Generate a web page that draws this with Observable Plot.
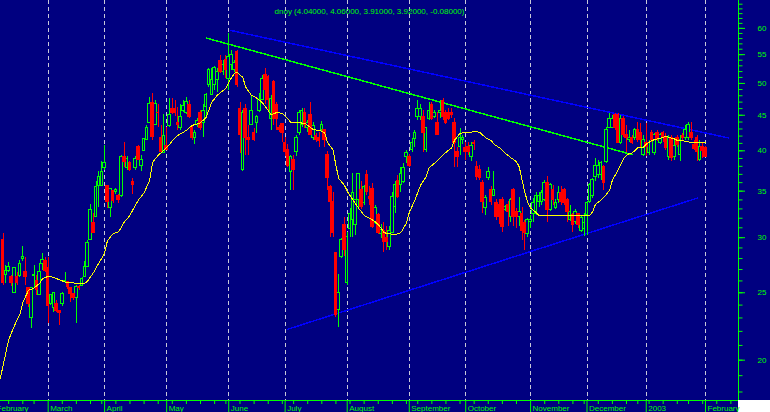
<!DOCTYPE html>
<html><head><meta charset="utf-8">
<script src="https://cdn.jsdelivr.net/npm/d3@7"></script>
<script src="https://cdn.jsdelivr.net/npm/@observablehq/plot@0.6"></script>
<style>html,body{margin:0;padding:0;background:#ffffff;overflow:hidden}</style>
</head><body><div id="chart"></div>
<script>
const title = "dnoy (4.04000, 4.06000, 3.91000, 3.92000, -0.08000)";

// daily candles (trading-day index 0 = first visible day)
const open = [
29.8,26.5,26.9,26.3,25.0,26.3,26.4,28.0,26.8,25.4,
23.0,26.4,26.0,24.8,27.5,27.8,27.1,24.1,23.8,24.1,
23.5,24.1,25.9,25.9,25.4,24.9,24.6,25.5,25.6,26.3,
27.2,29.8,31.5,32.1,35.6,35.6,37.8,35.6,33.1,35.0,
34.9,34.5,34.5,39.2,37.8,38.4,36.1,37.8,40.5,38.0,
40.0,41.4,43.9,46.9,43.5,45.4,41.7,39.7,40.7,43.4,
46.0,46.0,43.8,43.1,45.7,45.4,46.6,43.1,41.8,43.5,
45.3,43.9,46.2,49.7,48.1,49.7,50.5,53.8,51.9,54.0,
50.8,53.1,52.2,55.4,46.0,37.5,46.0,41.7,43.5,42.4,
43.9,45.6,47.3,51.4,51.0,44.5,50.2,46.6,43.2,43.7,
41.1,40.1,37.3,38.8,39.8,42.4,43.5,45.4,43.1,45.1,
41.7,42.0,41.7,42.8,42.8,39.5,35.5,33.8,28.5,23.6,
28.1,31.3,25.8,30.9,31.8,31.3,34.0,35.1,33.6,36.9,
34.3,35.2,31.5,32.3,30.4,30.7,30.0,29.1,30.5,33.2,
36.2,35.7,36.1,39.2,39.2,40.1,41.6,44.7,44.7,44.7,
40.1,44.5,46.6,44.7,43.8,45.3,47.2,45.3,45.3,45.4,
43.9,39.8,40.5,41.4,40.4,40.5,39.2,41.1,37.9,37.5,
35.9,33.1,36.5,35.1,34.5,33.6,33.4,34.0,32.9,33.4,
32.1,35.1,32.7,32.1,32.5,31.5,30.4,31.6,32.5,32.5,
33.8,33.8,34.0,35.9,32.9,35.1,33.1,34.0,34.8,35.1,
34.0,31.8,32.3,31.6,32.5,30.7,30.9,32.3,33.8,34.5,
36.7,36.9,36.9,37.9,38.6,43.2,43.2,45.0,45.0,41.1,
44.5,42.1,41.4,41.7,41.7,42.8,42.5,39.4,41.1,39.7,
42.4,39.7,42.4,41.1,42.4,41.8,39.2,41.7,39.2,41.7,
39.4,42.0,41.7,41.8,42.5,40.8,41.7,38.8,40.5,40.4];
const high = [
30.4,27.4,27.6,26.5,27.2,26.7,27.8,29.1,28.1,25.4,
25.4,27.4,26.5,27.5,28.5,28.1,28.1,24.8,25.0,24.4,
23.6,25.0,26.7,25.9,25.4,24.9,25.6,25.6,26.3,27.7,
29.7,33.5,32.5,36.1,37.3,38.6,40.7,35.6,35.3,35.1,
35.3,34.6,39.4,41.1,39.2,38.6,36.5,39.2,40.7,39.4,
41.7,43.5,47.8,48.4,47.2,46.7,43.5,45.1,43.2,47.6,
47.5,47.3,46.2,46.6,47.3,47.8,47.3,43.5,42.8,44.5,
45.7,46.6,48.4,52.6,52.6,52.9,52.6,54.9,54.0,54.9,
59.0,55.8,54.0,55.8,47.0,45.7,46.6,43.5,48.1,43.1,
45.0,48.4,51.4,52.6,51.4,48.1,50.5,46.9,43.5,43.8,
41.8,40.8,39.4,39.4,42.1,45.7,46.0,46.0,44.2,47.0,
43.9,42.4,42.5,44.1,42.9,39.9,35.7,34.9,28.6,26.6,
29.9,32.1,30.5,33.0,37.1,34.0,37.1,36.1,35.7,37.5,
35.5,35.9,33.4,32.5,31.3,31.6,31.1,31.1,34.8,36.1,
36.9,37.8,38.4,40.1,39.5,41.7,42.8,47.2,46.6,45.7,
43.2,46.9,46.9,45.7,45.4,47.2,47.5,45.7,46.0,46.0,
44.5,40.5,43.1,42.1,41.1,41.1,41.1,41.4,38.6,38.1,
36.3,34.5,37.8,35.6,37.3,34.0,34.0,34.3,33.4,33.8,
34.2,35.3,33.1,34.3,33.2,31.8,32.0,32.3,34.2,34.8,
34.8,35.1,36.3,36.7,35.9,35.7,34.0,35.5,35.5,35.3,
34.2,33.4,32.5,32.9,32.5,32.3,32.5,33.8,35.9,36.5,
39.0,38.8,38.6,38.1,43.2,45.3,45.0,45.3,45.3,45.0,
44.8,43.5,42.8,42.1,43.1,43.9,43.8,42.1,43.8,41.4,
42.8,42.4,42.8,42.4,42.7,42.4,42.1,42.1,41.4,42.1,
42.1,42.4,43.5,43.9,43.9,41.4,42.1,41.4,41.1,40.6];
const low = [
25.6,25.8,26.7,25.5,24.9,25.6,26.3,27.7,25.6,23.8,
22.2,25.4,24.8,24.8,26.9,26.7,22.6,24.0,23.4,23.4,
22.4,23.9,25.9,25.3,24.2,24.4,22.6,25.2,25.5,26.3,
27.2,29.8,30.5,32.1,33.2,35.5,37.5,33.1,32.1,33.6,
34.6,33.6,34.3,37.9,37.5,37.3,34.6,37.5,38.8,37.4,
40.0,41.4,43.9,41.4,43.5,43.2,39.7,39.7,40.1,43.2,
45.1,44.8,42.8,42.8,45.4,45.1,44.5,41.4,40.8,43.2,
42.8,41.8,44.5,49.4,48.1,48.9,48.6,51.7,51.4,50.8,
48.9,52.2,51.9,49.4,39.7,37.3,39.4,39.4,43.5,41.3,
42.4,45.4,47.3,46.6,45.7,42.8,43.5,42.8,42.5,41.1,
39.2,37.9,35.1,35.1,39.2,42.1,43.2,43.1,42.5,42.1,
41.4,41.1,40.5,42.5,40.5,35.1,30.0,30.0,23.0,22.3,
28.0,28.2,25.6,30.0,30.0,30.2,33.1,32.9,33.4,34.5,
33.4,30.9,31.3,30.3,29.9,28.6,28.8,28.8,30.5,32.5,
34.2,34.8,35.9,38.4,37.9,39.8,40.5,44.2,44.2,39.8,
39.8,44.2,44.2,44.5,42.1,44.5,44.2,43.7,44.2,44.5,
37.8,37.8,39.4,40.8,38.8,39.4,38.6,40.1,36.3,36.3,
32.5,32.3,36.3,33.4,34.5,31.8,31.3,30.5,32.7,31.1,
31.6,31.1,30.9,31.1,29.7,28.8,30.0,30.9,31.5,32.3,
33.2,33.4,33.8,31.5,32.7,33.4,32.9,33.6,33.4,33.4,
31.5,31.7,30.5,31.3,30.9,30.5,30.1,30.2,33.6,34.2,
36.1,36.5,36.3,35.1,38.4,43.1,43.1,42.8,41.1,40.8,
41.8,39.8,41.1,40.8,41.4,41.1,40.5,39.2,39.2,39.4,
41.1,39.4,41.3,40.9,41.1,40.1,38.8,38.6,38.8,40.5,
38.6,41.4,41.4,41.4,41.4,40.1,38.6,38.6,39.0,39.1];
const close = [
25.8,26.9,27.2,25.8,27.1,25.8,27.5,28.1,26.3,24.1,
25.4,26.5,25.2,26.8,27.9,26.9,23.9,24.8,25.0,23.5,
23.4,24.9,26.0,25.5,24.9,24.6,25.5,25.4,26.2,27.2,
29.5,32.9,30.5,35.5,36.7,37.3,38.4,33.8,35.3,33.9,
35.1,34.0,39.2,38.6,38.9,37.5,35.7,38.9,38.8,38.8,
41.6,43.1,46.7,41.9,46.7,45.3,39.8,42.0,40.1,45.1,
45.3,45.3,43.5,44.8,46.4,47.0,44.8,41.7,42.4,44.1,
43.1,45.6,48.1,52.2,50.5,52.6,51.9,51.9,53.1,52.2,
54.5,54.9,53.5,49.7,42.1,45.4,41.8,41.4,45.7,41.4,
44.8,47.3,50.8,48.9,47.3,47.5,44.5,44.5,42.8,42.5,
39.8,38.1,39.2,37.5,41.7,45.4,45.7,43.5,43.8,42.1,
43.4,41.4,41.3,43.5,41.4,36.5,33.8,30.5,23.2,25.0,
29.8,28.8,30.1,32.5,34.8,34.0,37.1,33.2,35.5,34.9,
34.1,31.1,33.1,30.5,30.8,29.6,29.6,30.7,34.3,35.7,
34.3,37.1,37.8,39.7,38.1,41.1,42.4,45.9,46.0,42.4,
43.1,45.7,44.5,45.4,42.2,45.6,44.7,43.9,44.5,45.0,
41.1,39.2,41.8,41.7,39.8,39.8,40.7,40.9,36.7,36.5,
33.8,34.2,37.3,33.8,35.1,32.1,32.1,31.1,33.2,32.7,
34.0,32.1,32.1,32.7,30.7,30.5,31.8,31.8,33.6,34.5,
34.5,34.8,35.9,32.9,35.7,34.0,33.6,34.8,33.8,33.6,
32.7,32.7,31.3,32.7,31.3,32.0,31.5,33.6,35.7,36.3,
38.1,38.1,38.4,35.9,42.8,44.5,44.5,43.2,41.1,44.5,
42.1,41.8,41.8,41.1,42.8,41.4,41.4,41.4,40.5,41.1,
41.4,42.1,41.6,42.1,41.7,40.4,41.8,39.0,40.7,40.8,
41.4,41.7,42.8,43.5,41.8,40.2,39.8,40.5,40.0,39.2];

// yellow indicator line
const maIndex = [-1,2,4,6,7,9,11,13,14,16,18,20,22,26,29,30,32,34,36,37,39,41,43,45,46,48,50,52,53,55,57,59,60,62,65,67,70,72,74,76,79,80,82,83,85,86,88,90,92,94,95,97,99,101,102,105,107,110,112,114,115,117,118,119,121,122,124,126,128,130,132,134,135,137,139,141,143,144,146,148,150,151,153,155,157,159,160,162,164,166,167,169,171,173,174,176,178,180,182,183,184,185,186,187,189,190,208,209,210,212,213,215,216,218,220,222,223,225,227,228,230,232,234,235,236,238,239,242,244,249];
const maValue = [18.8,21.4,22.4,23.3,24.2,25.2,25.4,25.8,26.2,26.4,26.3,26.1,25.9,25.8,25.8,26.0,26.7,27.6,28.5,29.7,30.4,30.6,31.6,32.3,32.9,34.0,34.8,36.3,38.5,39.4,40.1,40.8,41.4,42.1,42.8,43.5,43.9,44.7,47.0,48.1,49.2,50.2,51.7,51.9,51.0,49.4,48.1,47.6,46.9,45.7,45.1,45.4,45.3,44.5,43.9,43.9,43.8,42.9,42.8,42.5,41.1,40.1,38.1,36.5,35.7,35.0,34.0,33.1,32.3,32.0,31.6,31.0,30.5,30.4,30.3,30.5,31.5,32.6,34.0,35.7,36.7,37.8,38.4,39.1,39.8,40.4,41.4,42.4,42.5,42.5,42.7,42.5,41.8,41.4,40.9,40.4,39.7,39.1,38.6,37.9,36.3,34.8,33.7,33.1,32.6,32.3,32.3,32.7,33.5,34.0,34.3,35.1,36.3,37.5,39.0,39.7,39.7,40.4,40.5,40.9,41.4,41.6,41.8,42.0,41.8,41.6,41.4,41.3,41.1,41.1];

// trend lines (endpoints: day index, price)
const trendMidIndex = [72.1, 223.0],  trendMidValue = [58.1, 39.5];
const trendTopIndex = [80.6, 257.1],  trendTopValue = [59.6, 41.75];
const trendLowIndex = [100.8, 246.1], trendLowValue = [22.15, 34.2];

// axes
const monthIndex = [-3,16,36,58,80,100,122,144,164,187,207,228,249];
const monthLabels = ["February","March","April","May","June","July","August","September","October","November","December","2003","February"];
const weekIndex = [2,7,11,21,26,31,35,40,45,50,55,60,65,70,75,79,84,89,94,99,103,108,113,118,123,128,133,138,143,147,152,157,162,167,172,177,182,192,197,202,206,211,216,221,225,229,234,239,243,248,253,258];
const yMajor = [20,25,30,35,40,45,50,55,60];
const yMinor = d3.range(18, 66);
const xDomain = [-0.9, 260.7];
const yDomain = [17.5, 65.8];

const NAVY = "#000080", GREEN = "#00ff00", RED = "#ff0000", YELLOW = "#ffff00", BLUE = "#0000ff", GRID = "#c8c8d8";
const CRISP = "crispEdges";

const candles = open.map((o, i) => ({i, o, h: high[i], l: low[i], c: close[i]}));
const up = candles.filter(d => d.c >= d.o);
const down = candles.filter(d => d.c < d.o);
const ma = maIndex.map((x, k) => ({x, y: maValue[k]}));
const seg = (xs, ys) => xs.map((x, k) => ({x, y: ys[k]}));

const chart = Plot.plot({
  width: 770, height: 412,
  marginLeft: 0, marginRight: 32, marginTop: 0, marginBottom: 12,
  style: {
    background: "linear-gradient(#000080,#000080) 0 0/770px 400px no-repeat, linear-gradient(#000080,#000080) 0 400px/738px 12px no-repeat, #ffffff",
    fontFamily: "'Liberation Sans', Arial, sans-serif",
    fontSize: "8px",
    maxWidth: "none"
  },
  x: {type: "linear", domain: xDomain},
  y: {type: "log", domain: yDomain},
  marks: [
    Plot.ruleX(monthIndex.slice(1), {stroke: GRID, strokeDasharray: "4,3", shapeRendering: CRISP}),
    Plot.line(seg(trendMidIndex, trendMidValue), {x: "x", y: "y", stroke: GREEN, shapeRendering: CRISP}),
    Plot.line(seg(trendTopIndex, trendTopValue), {x: "x", y: "y", stroke: BLUE, shapeRendering: CRISP}),
    Plot.line(seg(trendLowIndex, trendLowValue), {x: "x", y: "y", stroke: BLUE, shapeRendering: CRISP}),
    Plot.ruleX(up, {x: "i", y1: "l", y2: "h", stroke: GREEN, shapeRendering: CRISP}),
    Plot.ruleX(down, {x: "i", y1: "l", y2: "h", stroke: RED, shapeRendering: CRISP}),
    Plot.rect(up, {x1: d => d.i - 0.45, x2: d => d.i + 0.45, y1: "o", y2: "c", fill: NAVY, stroke: GREEN, shapeRendering: CRISP}),
    Plot.rect(down, {x1: d => d.i - 0.45, x2: d => d.i + 0.45, y1: "o", y2: "c", fill: RED, stroke: RED, shapeRendering: CRISP}),
    Plot.line(ma, {x: "x", y: "y", stroke: YELLOW, strokeWidth: 1, shapeRendering: CRISP}),
    Plot.ruleY([yDomain[0]], {stroke: GREEN, shapeRendering: CRISP}),
    Plot.ruleX([xDomain[1]], {stroke: GREEN, shapeRendering: CRISP}),
    Plot.axisY({anchor: "right", ticks: yMinor, tickSize: 3.5, color: GREEN, fill: "none", tickFormat: () => ""}),
    Plot.axisY({anchor: "right", ticks: yMajor, tickSize: 6, tickPadding: 13, color: GREEN, fontSize: 8, tickFormat: d => String(d)}),
    Plot.axisX({anchor: "bottom", ticks: weekIndex, tickSize: 4, color: GREEN, fill: "none", tickFormat: () => ""}),
    Plot.axisX({anchor: "bottom", ticks: monthIndex, tickSize: 12, color: GREEN, fill: "none", tickFormat: () => ""}),
    Plot.axisX({anchor: "bottom", ticks: monthIndex, tickSize: 0, tickPadding: 5, textAnchor: "start", dx: 2, color: GREEN, fontSize: 8,
      tickFormat: d => monthLabels[monthIndex.indexOf(d)]}),
    Plot.text([title], {frameAnchor: "top", dy: 8, text: d => d, fill: GREEN, fontSize: 8})
  ]
});
document.getElementById("chart").appendChild(chart);
</script>
</body></html>
